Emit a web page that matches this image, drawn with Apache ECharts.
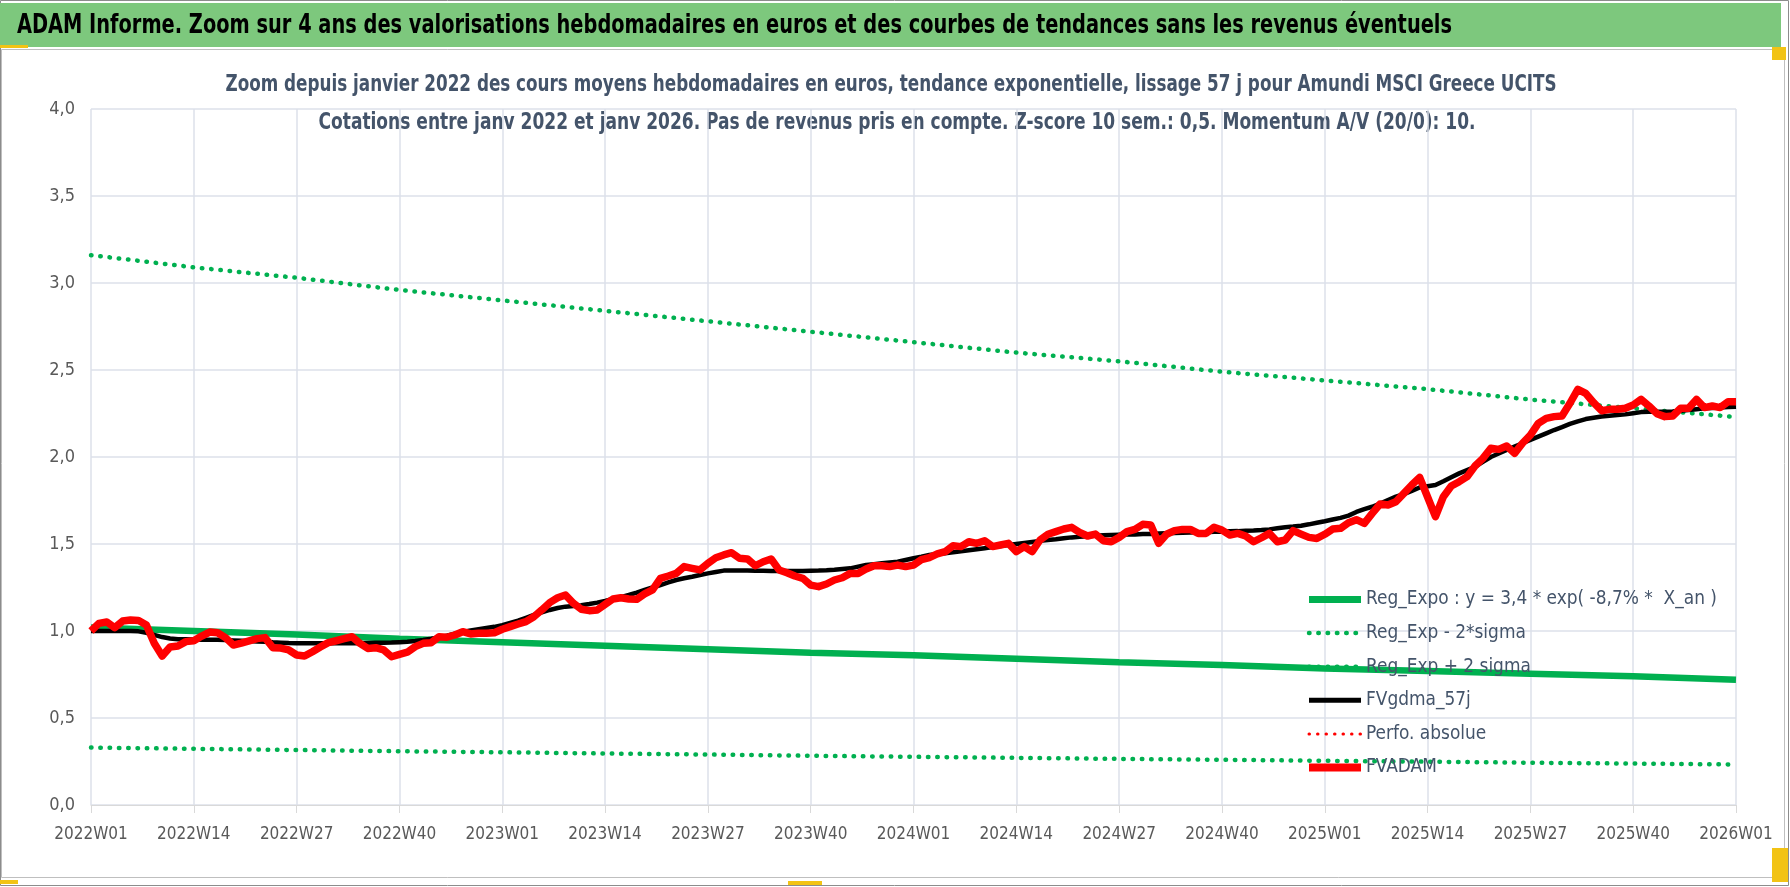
<!DOCTYPE html>
<html>
<head>
<meta charset="utf-8">
<script src="https://cdn.jsdelivr.net/npm/echarts@6/dist/echarts.min.js"></script>
<style>
  html, body { margin: 0; padding: 0; background: #fff; }
  #graph { width: 1790px; height: 887px; }
</style>
</head>
<body>
<div id="graph"></div>
<script>
// semaines 2022W01 .. 2026W01
var semaines = [];
[2022, 2023, 2024, 2025].forEach(function (an) {
  for (var w = 1; w <= 52; w++) semaines.push(an + "W" + (w < 10 ? "0" + w : w));
});
semaines.push("2026W01");

// valeurs lues tous les 13 semaines (tendances exponentielles)
var regExpo = [1.02, 1.0, 0.98, 0.955, 0.935, 0.915, 0.895, 0.875, 0.86, 0.84, 0.82, 0.805, 0.785, 0.77, 0.755, 0.74, 0.72];
var regMoins2Sigma = [0.33, 0.323, 0.316, 0.309, 0.303, 0.296, 0.29, 0.283, 0.277, 0.271, 0.265, 0.26, 0.254, 0.249, 0.243, 0.238, 0.233];
var regPlus2Sigma = [3.16, 3.09, 3.03, 2.96, 2.9, 2.84, 2.78, 2.72, 2.66, 2.6, 2.55, 2.49, 2.44, 2.39, 2.33, 2.28, 2.23];

// FVADAM hebdo
var fvadam = [
  1.0, 1.044, 1.052, 1.019, 1.057, 1.063, 1.061, 1.034, 0.93, 0.856,
  0.908, 0.914, 0.939, 0.944, 0.971, 0.994, 0.99, 0.962, 0.919, 0.93,
  0.943, 0.956, 0.962, 0.904, 0.902, 0.891, 0.862, 0.856, 0.881, 0.908,
  0.933, 0.944, 0.956, 0.967, 0.929, 0.9, 0.904, 0.891, 0.852, 0.866,
  0.878, 0.91, 0.929, 0.933, 0.967, 0.964, 0.977, 0.996, 0.983, 0.987,
  0.987, 0.99, 1.01, 1.025, 1.04, 1.054, 1.082, 1.121, 1.163, 1.191,
  1.207, 1.159, 1.125, 1.117, 1.121, 1.153, 1.184, 1.191, 1.184, 1.182,
  1.213, 1.236, 1.303, 1.316, 1.331, 1.37, 1.36, 1.351, 1.389, 1.421,
  1.437, 1.45, 1.418, 1.414, 1.375, 1.398, 1.414, 1.351, 1.335, 1.316,
  1.303, 1.264, 1.255, 1.27, 1.293, 1.306, 1.331, 1.331, 1.356, 1.375,
  1.375, 1.37, 1.379, 1.37, 1.379, 1.41, 1.422, 1.443, 1.456, 1.49,
  1.485, 1.513, 1.504, 1.519, 1.485, 1.494, 1.504, 1.456, 1.485, 1.456,
  1.523, 1.556, 1.571, 1.586, 1.596, 1.567, 1.546, 1.557, 1.519, 1.513,
  1.538, 1.571, 1.584, 1.613, 1.609, 1.504, 1.556, 1.577, 1.584, 1.584,
  1.561, 1.561, 1.596, 1.58, 1.552, 1.561, 1.546, 1.513, 1.536, 1.561,
  1.513, 1.523, 1.577, 1.557, 1.538, 1.532, 1.556, 1.586, 1.59, 1.622,
  1.64, 1.619, 1.676, 1.73, 1.724, 1.743, 1.791, 1.839, 1.883, 1.77,
  1.657, 1.772, 1.833, 1.858, 1.887, 1.948, 1.992, 2.05, 2.044, 2.063,
  2.021, 2.079, 2.126, 2.193, 2.222, 2.232, 2.236, 2.309, 2.389, 2.366,
  2.312, 2.266, 2.274, 2.274, 2.28, 2.299, 2.331, 2.293, 2.249, 2.232,
  2.236, 2.28, 2.28, 2.331, 2.284, 2.293, 2.284, 2.318, 2.318
];

// FVgdma_57j hebdo
var fvgdma = [
  1.0, 1.0, 1.0, 1.0, 1.0, 1.0, 0.998, 0.99, 0.978, 0.965,
  0.957, 0.953, 0.952, 0.951, 0.95, 0.95, 0.949, 0.948, 0.946, 0.944,
  0.942, 0.94, 0.938, 0.935, 0.933, 0.931, 0.93, 0.929, 0.929, 0.929,
  0.929, 0.929, 0.929, 0.93, 0.93, 0.931, 0.932, 0.933, 0.934, 0.936,
  0.938, 0.942, 0.948, 0.955, 0.963, 0.973, 0.985, 0.995, 1.003, 1.01,
  1.017, 1.024, 1.034, 1.047, 1.06, 1.076, 1.092, 1.107, 1.121, 1.132,
  1.14, 1.144, 1.148, 1.155, 1.163, 1.173, 1.184, 1.195, 1.207, 1.221,
  1.236, 1.25, 1.264, 1.279, 1.293, 1.303, 1.312, 1.322, 1.331, 1.339,
  1.347, 1.348, 1.347, 1.347, 1.346, 1.346, 1.345, 1.345, 1.345, 1.345,
  1.345, 1.346, 1.347, 1.349, 1.352, 1.356, 1.36, 1.37, 1.379, 1.384,
  1.389, 1.394, 1.398, 1.408, 1.418, 1.427, 1.437, 1.443, 1.447, 1.452,
  1.458, 1.464, 1.47, 1.476, 1.482, 1.488, 1.494, 1.5, 1.506, 1.512,
  1.518, 1.523, 1.527, 1.533, 1.538, 1.542, 1.545, 1.548, 1.55, 1.552,
  1.553, 1.554, 1.555, 1.557, 1.558, 1.56, 1.562, 1.563, 1.565, 1.566,
  1.567, 1.568, 1.57, 1.571, 1.573, 1.574, 1.576, 1.577, 1.58, 1.584,
  1.59, 1.596, 1.6, 1.605, 1.613, 1.622, 1.631, 1.641, 1.65, 1.663,
  1.684, 1.7, 1.714, 1.733, 1.753, 1.772, 1.786, 1.805, 1.825, 1.832,
  1.839, 1.861, 1.884, 1.906, 1.925, 1.944, 1.972, 2.0, 2.02, 2.04,
  2.06, 2.079, 2.098, 2.117, 2.136, 2.155, 2.172, 2.19, 2.205, 2.218,
  2.226, 2.233, 2.237, 2.241, 2.245, 2.252, 2.258, 2.26, 2.26, 2.26,
  2.262, 2.266, 2.27, 2.275, 2.28, 2.282, 2.284, 2.287, 2.289
];

var titreHaut = "ADAM Informe. Zoom sur 4 ans des valorisations hebdomadaires en euros et des courbes de tendances sans les revenus éventuels";
var titre1 = "Zoom depuis janvier 2022 des cours moyens hebdomadaires en euros, tendance exponentielle, lissage 57 j pour Amundi MSCI Greece UCITS";
var titre2 = "Cotations entre janv 2022 et janv 2026. Pas de revenus pris en compte. Z-score 10 sem.: 0,5. Momentum A/V (20/0): 10.";
var nomExpo = "Reg_Expo : y = 3,4 * exp( -8,7% *  X_an )";

var pas = 13;
function surSemaines(vals) {
  var out = semaines.map(function () { return null; });
  vals.forEach(function (v, k) { out[k * pas] = v; });
  return out;
}

var police = "'Liberation Sans Narrow', 'DejaVu Sans Condensed', 'Liberation Sans', sans-serif";
var ctx = document.createElement("canvas").getContext("2d");
function largeur(txt, font) { ctx.font = font; return ctx.measureText(txt).width; }
// texte serre comme dans l'original (police etroite)
var fHaut = "bold 27px " + police, fTitre = "bold 23px " + police;
var sxHaut = 1435 / largeur(titreHaut, fHaut);
var sxT1 = 1331 / largeur(titre1, fTitre);
var sxT2 = 1157 / largeur(titre2, fTitre);
var tailleLegende = Math.round(21 * 352 / largeur(nomExpo, "21px " + police) * 10) / 10;

var vert = "#00B050";
var gris = "#595959";
var bleuGris = "#44546A";
var dots = [0.5, 8.8];

var chart = echarts.init(document.getElementById("graph"));
chart.setOption({
  animation: false,
  textStyle: { fontFamily: police },
  graphic: [
    { type: "rect", shape: { x: 0.5, y: 0.5, width: 1788, height: 885 }, style: { fill: "none", stroke: "#8c8c8c", lineWidth: 1 }, z: -10 },
    { type: "rect", shape: { x: 0, y: 3, width: 1781, height: 44 }, style: { fill: "#7DC87D" } },
    { type: "text", x: 17, y: 26, scaleX: sxHaut, style: { text: titreHaut, fill: "#000", font: fHaut, textAlign: "left", textVerticalAlign: "middle" } },
    { type: "rect", shape: { x: 1.5, y: 49.5, width: 1783, height: 828 }, style: { fill: "none", stroke: "#bfbfbf", lineWidth: 1 } },
    { type: "rect", shape: { x: 0, y: 45, width: 28, height: 3 }, style: { fill: "#F2C314" } },
    { type: "rect", shape: { x: 1772, y: 47, width: 14, height: 13 }, style: { fill: "#F2C314" } },
    { type: "rect", shape: { x: 1772, y: 848, width: 16, height: 34 }, style: { fill: "#F2C314" } },
    { type: "rect", shape: { x: 0, y: 880, width: 18, height: 4 }, style: { fill: "#F2C314" } },
    { type: "rect", shape: { x: 788, y: 881, width: 34, height: 4 }, style: { fill: "#F2C314" } },
    { type: "text", x: 891, y: 85, scaleX: sxT1, style: { text: titre1, fill: bleuGris, font: fTitre, textAlign: "center", textVerticalAlign: "middle" } },
    { type: "text", x: 897, y: 123, scaleX: sxT2, style: { text: titre2, fill: bleuGris, font: fTitre, textAlign: "center", textVerticalAlign: "middle" } }
  ],
  grid: { left: 91, right: 54, top: 109, bottom: 82 },
  legend: {
    orient: "vertical",
    left: 1300,
    top: 584,
    itemWidth: 52,
    itemHeight: 14,
    itemGap: 12.6,
    itemStyle: { opacity: 0 },
    textStyle: { fontSize: tailleLegende, lineHeight: 21, color: bleuGris, fontFamily: police },
    data: [
      { name: nomExpo, lineStyle: { width: 7 } },
      { name: "Reg_Exp - 2*sigma", lineStyle: { width: 4.5 } },
      { name: "Reg_Exp + 2 sigma", lineStyle: { width: 4.5 } },
      { name: "FVgdma_57j", lineStyle: { width: 5 } },
      { name: "Perfo. absolue", lineStyle: { width: 3 } },
      { name: "FVADAM", lineStyle: { width: 8 } }
    ]
  },
  xAxis: {
    type: "category",
    data: semaines,
    boundaryGap: false,
    axisLine: { lineStyle: { color: "#d9d9d9" } },
    axisTick: { show: true, interval: pas - 1, length: 8, lineStyle: { color: "#d9d9d9" } },
    axisLabel: { interval: pas - 1, color: gris, fontSize: 17, margin: 21, fontFamily: police },
    splitLine: { show: true, interval: pas - 1, lineStyle: { color: "#dde1ea", width: 1.5 } }
  },
  yAxis: {
    type: "value",
    min: 0,
    max: 4,
    interval: 0.5,
    axisLine: { show: false },
    axisTick: { show: false },
    axisLabel: { color: gris, fontSize: 18, margin: 16, fontFamily: police, formatter: function (v) { return v.toFixed(1).replace(".", ","); } },
    splitLine: { lineStyle: { color: "#dde1ea", width: 1.5 } }
  },
  series: [
    { name: "Reg_Exp - 2*sigma", type: "line", data: surSemaines(regMoins2Sigma), connectNulls: true, showSymbol: false, symbol: "none", lineStyle: { color: vert, width: 4.5, type: dots, cap: "round" }, itemStyle: { color: vert } },
    { name: "Reg_Exp + 2 sigma", type: "line", data: surSemaines(regPlus2Sigma), connectNulls: true, showSymbol: false, symbol: "none", lineStyle: { color: vert, width: 4.5, type: dots, cap: "round" }, itemStyle: { color: vert } },
    { name: nomExpo, type: "line", data: surSemaines(regExpo), connectNulls: true, showSymbol: false, symbol: "none", lineStyle: { color: vert, width: 6.5 }, itemStyle: { color: vert } },
    { name: "Perfo. absolue", type: "line", data: [], showSymbol: false, symbol: "none", lineStyle: { color: "#FF0000", width: 3, type: [0.5, 8], cap: "round" }, itemStyle: { color: "#FF0000" } },
    { name: "FVgdma_57j", type: "line", data: fvgdma, showSymbol: false, symbol: "none", lineStyle: { color: "#000", width: 4.5 }, itemStyle: { color: "#000" } },
    { name: "FVADAM", type: "line", data: fvadam, showSymbol: false, symbol: "none", lineStyle: { color: "#FF0000", width: 7.5, join: "round" }, itemStyle: { color: "#FF0000" } }
  ]
});
</script>
</body>
</html>
